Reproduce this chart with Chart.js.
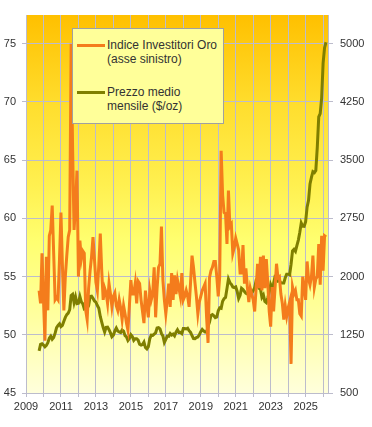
<!DOCTYPE html>
<html>
<head>
<meta charset="utf-8">
<script src="https://cdn.jsdelivr.net/npm/chart.js@4"></script>
<style>
  body { margin: 0; background: #fff; }
  #box { position: relative; width: 372px; height: 427px; }
  #legenda { position: absolute; left: 72px; top: 28px; width: 152px; height: 96px; box-sizing: border-box;
             background: #ffff99; border: 1px solid #a0a0a0; }
  .campione { position: absolute; left: 77px; width: 28px; height: 3px; }
  .testo { position: absolute; left: 107px; line-height: 15px; white-space: nowrap;
           font: 12px "Liberation Sans", Arial, sans-serif; color: #333; }
</style>
</head>
<body>
<div id="box">
  <canvas id="grafico" width="372" height="427"></canvas>
  <div id="legenda"></div>
  <div class="campione" style="top:43.5px;background:#f47c1c"></div>
  <div class="testo" style="top:37.5px">Indice Investitori Oro<br>(asse sinistro)</div>
  <div class="campione" style="top:91px;background:#7f7f00"></div>
  <div class="testo" style="top:85px">Prezzo medio<br>mensile ($/oz)</div>
</div>
<script>
// serie mensili da ottobre 2009 a marzo 2026
const annoInizio = 2009;
const meseInizio = 10;

const indiceInvestitori = [
  53.8, 52.7, 57.0, 53.0, 49.5, 56.7, 52.1, 58.5, 59.0, 61.1, 57.0, 53.0,
  53.2, 53.0, 56.5, 60.5, 56.0, 52.1, 55.0, 56.8, 58.4, 59.0, 75.0, 66.0,
  59.0, 61.0, 64.1, 55.0, 58.1, 56.5, 57.2, 57.0, 52.1, 51.3, 54.0, 55.5,
  56.7, 58.4, 56.5, 54.5, 53.8, 56.0, 58.7, 55.5, 53.0, 54.0, 53.6, 52.7,
  54.4, 53.5, 52.4, 53.3, 53.6, 52.5, 52.1, 53.0, 52.3, 51.3, 52.5, 51.8,
  51.0, 50.4, 52.5, 54.7, 53.5, 53.5, 54.4, 52.7, 54.6, 54.4, 53.0, 52.0,
  51.0, 53.8, 52.5, 51.5, 53.8, 53.0, 53.5, 55.8, 51.5, 54.0, 55.8, 56.1,
  59.3, 54.7, 53.0, 51.8, 53.0, 54.4, 52.4, 55.3, 53.0, 55.1, 53.5, 54.7,
  54.0, 53.3, 55.3, 53.0, 53.3, 53.8, 53.3, 52.4, 54.5, 56.8, 55.8, 54.5,
  53.3, 51.8, 52.8, 53.3, 53.8, 54.1, 54.4, 51.5, 49.3, 54.9, 55.5, 55.8,
  56.3, 56.3, 55.0, 53.3, 55.0, 65.8, 62.0, 60.5, 60.4, 57.8, 62.4, 59.3,
  59.5, 57.0, 57.5, 58.3, 57.8, 57.3, 55.3, 55.3, 57.7, 54.4, 55.7, 54.1,
  52.8, 54.0, 53.5, 53.0, 52.0, 54.0, 56.1, 54.0, 56.7, 53.8, 56.8, 54.0,
  56.5, 54.5, 52.0, 50.7, 54.1, 52.0, 54.0, 56.1, 54.9, 55.0, 53.5, 52.7,
  51.3, 52.5, 51.6, 52.3, 52.8, 47.5, 54.1, 53.5, 53.8, 53.0, 53.0, 51.8,
  51.6, 55.0, 54.0, 53.0, 56.3, 54.8, 54.3, 55.0, 56.8, 54.1, 54.8, 55.0,
  57.8, 54.3, 58.5, 55.5, 58.5, 58.4
];

const prezzoOro = [
  1043, 1127, 1135,
  1118, 1095, 1113, 1148, 1205, 1232, 1193, 1215, 1271, 1343, 1370, 1391,
  1356, 1372, 1424, 1474, 1510, 1529, 1573, 1756, 1772, 1665, 1739, 1652,
  1656, 1742, 1673, 1650, 1585, 1596, 1594, 1626, 1744, 1747, 1721, 1685,
  1671, 1627, 1593, 1487, 1414, 1343, 1286, 1347, 1349, 1316, 1275, 1225,
  1244, 1300, 1336, 1299, 1287, 1279, 1311, 1296, 1239, 1222, 1176, 1201,
  1251, 1227, 1178, 1198, 1199, 1181, 1128, 1117, 1125, 1157, 1086, 1068,
  1097, 1200, 1246, 1243, 1260, 1276, 1337, 1341, 1326, 1266, 1236, 1152,
  1192, 1234, 1231, 1266, 1246, 1260, 1236, 1283, 1315, 1280, 1282, 1265,
  1331, 1331, 1325, 1335, 1303, 1282, 1238, 1202, 1199, 1215, 1221, 1250,
  1291, 1320, 1300, 1285, 1283, 1359, 1413, 1500, 1510, 1495, 1471, 1479,
  1560, 1597, 1591, 1683, 1715, 1732, 1846, 1968, 1922, 1900, 1866, 1858,
  1867, 1808, 1718, 1760, 1850, 1834, 1807, 1785, 1775, 1777, 1821, 1790,
  1817, 1856, 1948, 1937, 1849, 1837, 1733, 1764, 1681, 1665, 1726, 1798,
  1898, 1853, 1912, 2000, 1992, 1943, 1951, 1918, 1916, 1916, 1985, 2032,
  2034, 2023, 2159, 2331, 2351, 2326, 2398, 2470, 2571, 2690, 2651, 2648,
  2709, 2895, 2983, 3193, 3279, 3352, 3340, 3368, 3665, 4058, 4100, 4300,
  4750, 4950, 5020
];

const anni = [2009, 2010, 2011, 2012, 2013, 2014, 2015, 2016, 2017, 2018, 2019, 2020, 2021, 2022, 2023, 2024, 2025, 2026];
const tickSinistra = [45, 50, 55, 60, 65, 70, 75];
const tickDestra = [500, 1250, 2000, 2750, 3500, 4250, 5000];

function dataMese(i) {
  return annoInizio + (meseInizio - 1 + i) / 12;
}

function punti(serie) {
  return serie.map(function (v, i) { return { x: dataMese(i), y: v }; });
}

const coloreGriglia = "#bcbccc";
const carattere = { family: "'Liberation Sans', Arial, sans-serif", size: 11 };

const sfondo = {
  id: "sfondo",
  beforeDraw: function (chart) {
    const a = chart.chartArea;
    const c = chart.ctx;
    const g = c.createLinearGradient(0, a.top, 0, a.bottom);
    g.addColorStop(0, "#ffc000");
    g.addColorStop(0.25, "#ffdf30");
    g.addColorStop(0.45, "#fff050");
    g.addColorStop(0.6, "#ffff70");
    g.addColorStop(0.8, "#ffffa0");
    g.addColorStop(1, "#ffffdc");
    c.save();
    c.fillStyle = g;
    c.fillRect(a.left, a.top, a.right - a.left, a.bottom - a.top);
    c.restore();
  }
};

const ctx = document.getElementById("grafico");

new Chart(ctx, {
  type: "line",
  data: {
    datasets: [
      {
        label: "Indice Investitori Oro (asse sinistro)",
        data: punti(indiceInvestitori),
        borderColor: "#f47c1c",
        borderWidth: 3,
        pointRadius: 0,
        tension: 0,
        yAxisID: "ySx",
      },
      {
        label: "Prezzo medio mensile ($/oz)",
        data: punti(prezzoOro),
        borderColor: "#7f7f00",
        borderWidth: 3,
        pointRadius: 0,
        tension: 0,
        yAxisID: "yDx",
      },
    ],
  },
  options: {
    responsive: false,
    animation: false,
    devicePixelRatio: 1,
    layout: { padding: { top: 15 } },
    plugins: { legend: { display: false }, tooltip: { enabled: false } },
    scales: {
      x: {
        type: "linear",
        min: 2009,
        max: 2026.28,
        afterBuildTicks: function (s) { s.ticks = anni.map(function (v) { return { value: v }; }); },
        afterFit: function (s) { s.height = 34; },
        ticks: {
          callback: function (v) { return v % 2 === 1 ? String(v) : ""; },
          autoSkip: false,
          maxRotation: 0,
          padding: 3,
          color: "#333",
          font: carattere,
        },
        grid: { color: coloreGriglia, tickLength: 4 },
        border: { color: coloreGriglia },
      },
      ySx: {
        position: "left",
        min: 45,
        max: 77.47,
        afterBuildTicks: function (s) { s.ticks = tickSinistra.map(function (v) { return { value: v }; }); },
        afterFit: function (s) { s.width = 26; },
        ticks: { padding: 6, color: "#333", font: carattere },
        grid: { color: coloreGriglia, tickLength: 4 },
        border: { color: coloreGriglia },
      },
      yDx: {
        position: "right",
        min: 500,
        max: 5371,
        afterBuildTicks: function (s) { s.ticks = tickDestra.map(function (v) { return { value: v }; }); },
        afterFit: function (s) { s.width = 44; },
        ticks: { padding: 7, color: "#333", font: carattere, callback: function (v) { return String(v); } },
        grid: { drawOnChartArea: false, color: coloreGriglia, tickLength: 5 },
        border: { color: coloreGriglia },
      },
    },
  },
  plugins: [sfondo],
});
</script>
</body>
</html>
